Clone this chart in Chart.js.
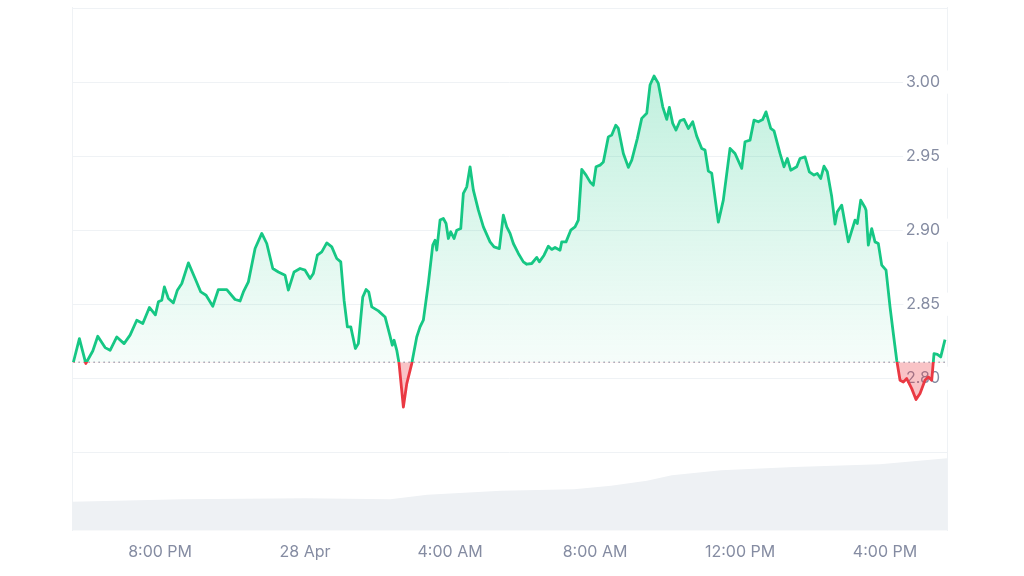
<!DOCTYPE html>
<html>
<head>
<meta charset="utf-8">
<script src="https://cdn.jsdelivr.net/npm/chart.js"></script>
<style>
  html, body { margin: 0; padding: 0; background: #fff; }
  #wrap { width: 1024px; height: 576px; position: relative; }
</style>
</head>
<body>
<div id="wrap"><canvas id="chart"></canvas></div>
<script>
// DATA (hours counted from 27 Apr 00:00, price in USD)

const hours = [
  17.608, 17.774, 17.950, 18.143, 18.281, 18.483, 18.621, 18.806, 19.007, 19.172,
  19.357, 19.523, 19.705, 19.870, 19.953, 20.047, 20.119, 20.229, 20.367, 20.477,
  20.599, 20.781, 20.966, 21.123, 21.269, 21.454, 21.608, 21.840, 22.069, 22.207,
  22.298, 22.436, 22.621, 22.806, 22.943, 23.109, 23.263, 23.448, 23.539, 23.697,
  23.862, 24.000, 24.138, 24.229, 24.339, 24.461, 24.599, 24.737, 24.874, 24.985,
  25.076, 25.167, 25.261, 25.388, 25.470, 25.592, 25.683, 25.757, 25.840, 26.022,
  26.207, 26.345, 26.406, 26.455, 26.530, 26.593, 26.712, 26.806, 26.943, 27.081,
  27.172, 27.263, 27.401, 27.523, 27.586, 27.633, 27.724, 27.815, 27.890, 27.953,
  28.019, 28.110, 28.185, 28.295, 28.367, 28.461, 28.552, 28.643, 28.781, 28.919,
  29.103, 29.214, 29.360, 29.470, 29.564, 29.655, 29.746, 29.884, 30.022, 30.116,
  30.254, 30.392, 30.463, 30.593, 30.712, 30.806, 30.897, 31.034, 31.081, 31.200,
  31.330, 31.448, 31.539, 31.633, 31.752, 31.862, 31.953, 32.028, 32.138, 32.229,
  32.367, 32.461, 32.571, 32.643, 32.781, 32.919, 33.013, 33.168, 33.288, 33.426,
  33.517, 33.628, 33.746, 33.868, 33.978, 34.050, 34.143, 34.234, 34.345, 34.455,
  34.574, 34.695, 34.805, 34.943, 35.034, 35.125, 35.219, 35.401, 35.539, 35.724,
  35.862, 36.047, 36.138, 36.276, 36.386, 36.505, 36.626, 36.717, 36.847, 36.938,
  37.103, 37.214, 37.305, 37.399, 37.564, 37.655, 37.793, 37.912, 38.041, 38.132,
  38.226, 38.317, 38.408, 38.530, 38.621, 38.684, 38.806, 38.988, 39.172, 39.236,
  39.330, 39.448, 39.476, 39.539, 39.633, 39.724, 39.815, 39.909, 40.028, 40.138,
  40.229, 40.323, 40.414, 40.505, 40.599, 40.737, 40.855, 40.966, 41.103, 41.195,
  41.288, 41.352, 41.443, 41.537, 41.655
];

const prices = [
  2.8108, 2.8268, 2.8100, 2.8184, 2.8284, 2.8207, 2.8189, 2.8279, 2.8234, 2.8291,
  2.8392, 2.8370, 2.8478, 2.8428, 2.8516, 2.8527, 2.8617, 2.8539, 2.8509, 2.8595,
  2.8640, 2.8779, 2.8674, 2.8583, 2.8561, 2.8486, 2.8599, 2.8599, 2.8532, 2.8522,
  2.8583, 2.8651, 2.8876, 2.8978, 2.8910, 2.8741, 2.8718, 2.8696, 2.8595, 2.8718,
  2.8741, 2.8730, 2.8674, 2.8707, 2.8831, 2.8853, 2.8914, 2.8887, 2.8809, 2.8786,
  2.8527, 2.8347, 2.8347, 2.8201, 2.8234, 2.8549, 2.8599, 2.8583, 2.8482, 2.8455,
  2.8414, 2.8284, 2.8223, 2.8257, 2.8189, 2.8101, 2.7806, 2.7964, 2.8099, 2.8279,
  2.8347, 2.8392, 2.8640, 2.8899, 2.8932, 2.8865, 2.9068, 2.9079, 2.9045, 2.8944,
  2.8989, 2.8944, 2.9000, 2.9011, 2.9248, 2.9293, 2.9428, 2.9270, 2.9135, 2.9022,
  2.8921, 2.8887, 2.8876, 2.9101, 2.9022, 2.8978, 2.8910, 2.8843, 2.8786, 2.8770,
  2.8775, 2.8816, 2.8786, 2.8831, 2.8892, 2.8870, 2.8883, 2.8865, 2.8921, 2.8921,
  2.9000, 2.9022, 2.9068, 2.9410, 2.9372, 2.9326, 2.9304, 2.9428, 2.9439, 2.9461,
  2.9630, 2.9642, 2.9709, 2.9687, 2.9518, 2.9424, 2.9473, 2.9620, 2.9755, 2.9789,
  2.9980, 3.0041, 2.9991, 2.9833, 2.9748, 2.9829, 2.9721, 2.9676, 2.9739, 2.9748,
  2.9687, 2.9732, 2.9635, 2.9552, 2.9541, 2.9399, 2.9385, 2.9054, 2.9203, 2.9552,
  2.9518, 2.9417, 2.9597, 2.9608, 2.9743, 2.9732, 2.9748, 2.9799, 2.9687, 2.9671,
  2.9518, 2.9428, 2.9484, 2.9405, 2.9428, 2.9484, 2.9495, 2.9394, 2.9372, 2.9383,
  2.9349, 2.9432, 2.9394, 2.9225, 2.9041, 2.9124, 2.9169, 2.8921, 2.9068, 2.9045,
  2.9203, 2.9153, 2.9135, 2.8899, 2.9011, 2.8921, 2.8910, 2.8764, 2.8730, 2.8482,
  2.8302, 2.8122, 2.7986, 2.7975, 2.7998, 2.7930, 2.7856, 2.7897, 2.7986, 2.8009,
  2.7986, 2.8167, 2.8162, 2.8144, 2.8261
];

// volume (millions) shown as the grey area at the bottom
const volHours = [17.57, 20.61, 24.00, 26.35, 27.37, 29.41, 31.42, 32.44, 33.43, 34.12, 35.48, 37.49, 39.86, 41.71];
const volumes  = [14.4, 15.7, 16.2, 15.7, 17.9, 19.9, 20.6, 22.4, 24.9, 27.6, 30.0, 31.7, 33.0, 36.0];

const xTicks = [20, 24, 28, 32, 36, 40];
const xTickLabels = ['8:00 PM', '28 Apr', '4:00 AM', '8:00 AM', '12:00 PM', '4:00 PM'];

const yTicks = [2.75, 2.80, 2.85, 2.90, 2.95, 3.00, 3.05];
const yLabelled = [2.80, 2.85, 2.90, 2.95, 3.00];

const baseline = prices[0]; // price 24h ago, the dotted line

var upCol = '#16c784';
var downCol = '#ea3943';
var gridCol = '#eff2f5';
var textCol = '#858ca2';

// MAKING THE CHART

Chart.defaults.font.family = 'Inter';
Chart.defaults.font.size = 16;
Chart.defaults.color = textCol;

const ctx = document.getElementById('chart').getContext('2d');
const myChart = new Chart(ctx, {
    type: 'line',
    data: {
        datasets: [
        {
            label: 'Price',
            data: hours.map((h, i) => ({x: h, y: prices[i]})),
            borderColor: upCol,
            borderWidth: 2.8,
            borderJoinStyle: 'round',
            pointRadius: 0,
            tension: 0,
            fill: {target: {value: baseline}, above: 'rgba(22,199,132,0.15)', below: 'rgba(234,57,67,0.3)'},
            yAxisID: 'y',
            order: 1,
        },
        {
            label: 'Open',
            data: [{x: hours[0], y: baseline}, {x: hours[hours.length - 1], y: baseline}],
            borderColor: '#a3a9b8',
            borderWidth: 1.5,
            borderDash: [1.5, 3.5],
            pointRadius: 0,
            fill: false,
            yAxisID: 'y',
            order: 2,
        },
        {
            label: 'Volume',
            data: volHours.map((h, i) => ({x: h, y: volumes[i]})),
            borderWidth: 0,
            backgroundColor: '#eef1f4',
            pointRadius: 0,
            fill: 'start',
            yAxisID: 'yVol',
            order: 3,
        },
    ]
    },
    options: {
        responsive: true,
        maintainAspectRatio: false,
        animation: false,
        layout: {padding: {left: 72, right: 77, top: 7, bottom: 10}},
        scales: {
            x: {
                type: 'linear',
                min: 17.57,
                max: 41.71,
                grid: {display: false},
                border: {display: false},
                afterBuildTicks: function(axis) {
                    axis.ticks = xTicks.map(v => ({value: v}));
                },
                afterFit: function(axis) { axis.paddingLeft = 0; axis.paddingRight = 0; },
                ticks: {
                    padding: 4,
                    maxRotation: 0,
                    autoSkip: false,
                    callback: function(value) {
                        return xTickLabels[xTicks.indexOf(value)];
                    },
                },
            },
            y: {
                position: 'right',
                min: 2.697,
                max: 3.0507,
                grid: {color: gridCol, drawTicks: false},
                border: {display: true, color: gridCol},
                afterBuildTicks: function(axis) {
                    axis.ticks = yTicks.map(v => ({value: v}));
                },
                // labels sit inside the plot, so the axis takes no room
                afterFit: function(axis) { axis.width = 0; axis.paddingTop = 0; axis.paddingBottom = 0; },
                ticks: {
                    mirror: true,
                    padding: -7,
                    callback: function(value) {
                        return yLabelled.includes(value) ? value.toFixed(2) : '';
                    },
                    showLabelBackdrop: function(c) {
                        return c.tick ? yLabelled.includes(c.tick.value) : false;
                    },
                    backdropColor: '#ffffff',
                    backdropPadding: {top: 2, bottom: 2, left: 3, right: 9},
                },
            },
            yVol: {
                position: 'left',
                min: 0,
                max: 260,
                grid: {display: false, drawTicks: false},
                border: {display: true, color: gridCol},
                ticks: {display: false},
            },
        },
        plugins: {
            legend: {display: false},
            tooltip: {enabled: false},
        },
    }
});

// gradients need the chart area, so build them after the first layout
const area = myChart.chartArea;
const basePx = myChart.scales.y.getPixelForValue(baseline);
const c2 = myChart.ctx;

const greenFill = c2.createLinearGradient(0, area.top, 0, basePx);
greenFill.addColorStop(0, 'rgba(22,199,132,0.32)');
greenFill.addColorStop(1, 'rgba(22,199,132,0.04)');

const lineGrad = c2.createLinearGradient(0, area.top, 0, area.bottom);
const split = (basePx - area.top) / (area.bottom - area.top);
lineGrad.addColorStop(0, upCol);
lineGrad.addColorStop(split, upCol);
lineGrad.addColorStop(split, downCol);
lineGrad.addColorStop(1, downCol);

myChart.data.datasets[0].borderColor = lineGrad;
myChart.data.datasets[0].fill = {target: {value: baseline}, above: greenFill, below: 'rgba(234,57,67,0.3)'};
myChart.update('none');
</script>
</body>
</html>
